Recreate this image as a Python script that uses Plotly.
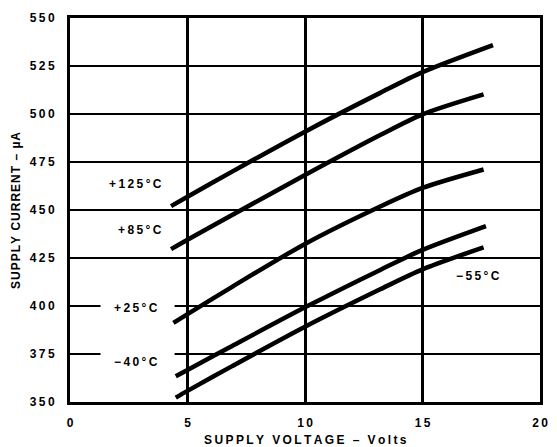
import plotly.graph_objects as go

# ---- data ----
series_names = ["+125°C", "+85°C", "+25°C", "−40°C", "−55°C"]
x_125 = [4.3, 5, 6.9, 10, 13.2, 15, 18.0]
y_125 = [452.0, 456.9, 470.0, 490.8, 511.0, 521.8, 535.9]
x_85 = [4.3, 5, 6.9, 10, 13.2, 15, 17.6]
y_85 = [429.6, 434.5, 447.4, 468.2, 489.0, 499.8, 510.2]
x_25 = [4.4, 5, 6.9, 10, 13.2, 15, 17.6]
y_25 = [391.2, 395.8, 410.0, 432.3, 451.8, 461.5, 471.1]
x_m40 = [4.5, 5, 6.9, 10, 13.2, 15, 17.7]
y_m40 = [363.4, 366.7, 379.2, 399.3, 418.8, 429.2, 441.6]
x_m55 = [4.5, 5, 6.9, 10, 13.2, 15, 17.6]
y_m55 = [352.3, 355.8, 368.7, 389.2, 408.7, 419.1, 430.5]

x_ticks = [0, 5, 10, 15, 20]
y_ticks = [350, 375, 400, 425, 450, 475, 500, 525, 550]

# label positions (data coords) and anchor side
label_x = [4.0, 4.0, 3.85, 3.85, 16.36]
label_y = [463.5, 439.6, 398.8, 370.7, 415.8]
label_anchor = ["right", "right", "right", "right", "left"]

x_title = "SUPPLY VOLTAGE – Volts"
y_title = "SUPPLY CURRENT – µA"

TS = "\u2009"  # thin space used as letter spacing
HS = "\u200a"  # hair space


def spaced(s, sep=TS):
    return sep.join(list(str(s)))


FONT = dict(family="Liberation Sans, Arial, sans-serif", size=12, color="black", weight="bold")

fig = go.Figure()
for xs, ys, name in [(x_125, y_125, series_names[0]), (x_85, y_85, series_names[1]),
                     (x_25, y_25, series_names[2]), (x_m40, y_m40, series_names[3]),
                     (x_m55, y_m55, series_names[4])]:
    fig.add_trace(go.Scatter(x=xs, y=ys, mode="lines", name=name,
                             line=dict(color="black", width=4.5, shape="spline", smoothing=0.8),
                             showlegend=False, hoverinfo="skip"))

shapes = []
annotations = []
for lx, ly, anc, name in zip(label_x, label_y, label_anchor, series_names):
    if anc == "right":
        x0, x1 = lx - 2.55, lx + 0.6
    else:
        x0, x1 = lx - 0.6, lx + 2.2
    shapes.append(dict(type="rect", xref="x", yref="y", x0=x0, x1=x1, y0=ly - 6, y1=ly + 6,
                       fillcolor="white", line=dict(width=0), layer="between"))
    annotations.append(dict(x=lx, y=ly, xref="x", yref="y", text=spaced(name), showarrow=False,
                            xanchor=anc, yanchor="middle", font=FONT))

annotations.append(dict(x=0.5, y=-0.099, xref="paper", yref="paper", text=spaced(x_title),
                        showarrow=False, xanchor="center", yanchor="middle", font=FONT))
annotations.append(dict(x=-0.115, y=0.5, xref="paper", yref="paper", text=spaced(y_title, HS),
                        showarrow=False, xanchor="center", yanchor="middle", textangle=-90,
                        font=FONT))

fig.update_layout(
    width=557, height=447,
    margin=dict(l=70, r=9, t=18, b=45),
    paper_bgcolor="white", plot_bgcolor="white",
    shapes=shapes, annotations=annotations,
    font=FONT,
)
fig.update_xaxes(range=[0, 20], tickvals=x_ticks, ticktext=[spaced(v) for v in x_ticks],
                 showgrid=True, gridcolor="black", gridwidth=2.5,
                 showline=True, linecolor="black", linewidth=3, mirror=True,
                 ticks="", ticklabelstandoff=8, zeroline=False, tickfont=FONT)
fig.update_yaxes(range=[350, 550], tickvals=y_ticks, ticktext=[spaced(v) for v in y_ticks],
                 showgrid=True, gridcolor="black", gridwidth=1.8,
                 showline=True, linecolor="black", linewidth=3, mirror=True,
                 ticks="", ticklabelstandoff=10, zeroline=False, tickfont=FONT)

fig.write_html("out.html", config={"displayModeBar": False},
               post_script="document.body.style.margin='0';document.body.style.padding='0';")
